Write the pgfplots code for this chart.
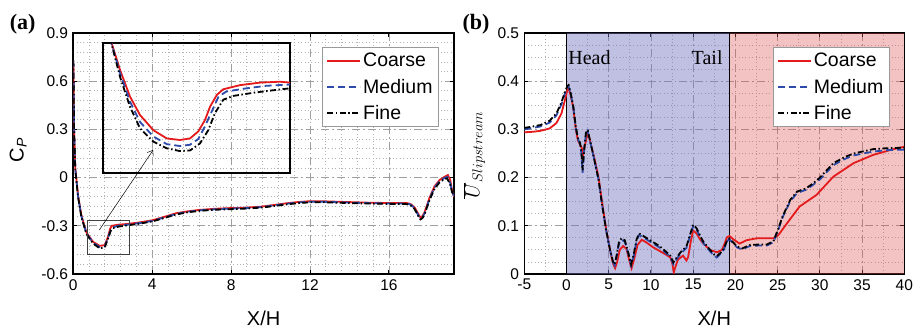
\documentclass[border=0pt]{standalone}
\usepackage{pgfplots}
\pgfplotsset{compat=1.18}
\usepackage{pgfplotstable}
\usepackage{fontspec}
\setmainfont{Liberation Sans}
\newfontfamily\seriffont{Liberation Serif}
\usetikzlibrary{arrows.meta}

\definecolor{coarsec}{RGB}{228,26,28}
\definecolor{mediumc}{RGB}{45,75,170}
\definecolor{headc}{RGB}{115,115,190}
\definecolor{tailc}{RGB}{222,80,80}

% ---------- panel (a): Cp ----------
\pgfplotstableread{
x y
0 0.73
0.02 0.55
0.04 0.30
0.10 0.06
0.24 -0.11
0.41 -0.235
0.66 -0.34
1.00 -0.40
1.34 -0.425
1.59 -0.42
1.76 -0.37
1.86 -0.32
1.95 -0.30
2.3 -0.293
2.7 -0.289
3.3 -0.28
4.0 -0.266
4.6 -0.245
5.2 -0.222
5.8 -0.21
6.4 -0.201
7.2 -0.194
7.9 -0.19
8.7 -0.187
9.5 -0.181
10.2 -0.17
10.8 -0.16
11.4 -0.152
12.0 -0.147
12.8 -0.148
13.6 -0.151
14.4 -0.154
15.2 -0.157
16.0 -0.158
16.9 -0.158
17.1 -0.165
17.3 -0.185
17.47 -0.222
17.59 -0.248
17.7 -0.24
17.81 -0.215
18.06 -0.125
18.31 -0.055
18.57 -0.015
18.82 0.005
18.99 0.016
19.11 -0.015
19.2 -0.08
19.3 -0.12
}\cpcoarse

\pgfplotstableread{
x y
0 0.73
0.02 0.55
0.04 0.295
0.10 0.055
0.24 -0.115
0.41 -0.24
0.66 -0.345
1.00 -0.405
1.34 -0.433
1.59 -0.428
1.76 -0.375
1.90 -0.325
2.0 -0.31
2.3 -0.299
2.7 -0.294
3.3 -0.284
4.0 -0.27
4.6 -0.249
5.2 -0.226
5.8 -0.213
6.4 -0.204
7.2 -0.197
7.9 -0.193
8.7 -0.19
9.5 -0.184
10.2 -0.173
10.8 -0.163
11.4 -0.155
12.0 -0.15
12.8 -0.151
13.6 -0.154
14.4 -0.157
15.2 -0.16
16.0 -0.161
16.9 -0.161
17.1 -0.168
17.3 -0.19
17.47 -0.23
17.6 -0.255
17.7 -0.247
17.81 -0.222
18.06 -0.133
18.31 -0.062
18.57 -0.022
18.82 -0.002
18.97 0.004
19.1 -0.03
19.2 -0.085
19.3 -0.115
}\cpmedium

\pgfplotstableread{
x y
0 0.73
0.02 0.55
0.04 0.29
0.10 0.05
0.24 -0.12
0.41 -0.245
0.66 -0.35
1.00 -0.41
1.34 -0.44
1.59 -0.435
1.76 -0.38
1.90 -0.33
2.0 -0.315
2.3 -0.305
2.7 -0.298
3.3 -0.288
4.0 -0.273
4.6 -0.252
5.2 -0.23
5.8 -0.216
6.4 -0.207
7.2 -0.2
7.9 -0.197
8.7 -0.193
9.5 -0.187
10.2 -0.177
10.8 -0.167
11.4 -0.159
12.0 -0.154
12.8 -0.154
13.6 -0.157
14.4 -0.16
15.2 -0.162
16.0 -0.164
16.9 -0.165
17.1 -0.172
17.3 -0.195
17.47 -0.235
17.6 -0.26
17.7 -0.252
17.81 -0.228
18.06 -0.14
18.31 -0.07
18.57 -0.03
18.82 -0.008
18.95 -0.005
19.1 -0.04
19.2 -0.09
19.3 -0.11
}\cpfine

% ---------- inset (zoomed view) ----------
\pgfplotstableread{
x y
0.78 -0.262
0.803 -0.270
0.899 -0.312
1.013 -0.354
1.128 -0.383
1.281 -0.407
1.435 -0.420
1.587 -0.4225
1.702 -0.420
1.797 -0.409
1.874 -0.391
1.932 -0.370
2.009 -0.3515
2.084 -0.3425
2.276 -0.336
2.506 -0.332
2.735 -0.3306
2.85 -0.332
}\inscoarse

\pgfplotstableread{
x y
0.78 -0.262
0.803 -0.271
0.899 -0.317
1.013 -0.362
1.128 -0.394
1.281 -0.417
1.435 -0.429
1.587 -0.432
1.702 -0.430
1.797 -0.421
1.874 -0.401
1.95 -0.378
2.03 -0.354
2.12 -0.346
2.35 -0.341
2.58 -0.337
2.85 -0.335
}\insmedium

\pgfplotstableread{
x y
0.78 -0.262
0.803 -0.272
0.899 -0.323
1.013 -0.370
1.128 -0.404
1.281 -0.425
1.435 -0.4356
1.587 -0.440
1.702 -0.439
1.816 -0.428
1.912 -0.407
1.989 -0.380
2.084 -0.359
2.199 -0.353
2.43 -0.348
2.66 -0.344
2.85 -0.341
}\insfine

% ---------- panel (b): slipstream velocity ----------
\pgfplotstableread{
x y
-5 0.294
-4 0.295
-3.1 0.297
-2 0.302
-1.2 0.313
-0.6 0.333
-0.2 0.360
0.1 0.382
0.25 0.385
0.5 0.37
0.8 0.345
1.1 0.30
1.35 0.277
1.6 0.268
1.8 0.262
1.95 0.245
2.15 0.265
2.5 0.292
2.7 0.283
2.9 0.268
3.3 0.24
3.8 0.20
4.2 0.15
4.7 0.092
5.15 0.05
5.5 0.022
5.75 0.012
6.0 0.025
6.3 0.05
6.7 0.058
7.1 0.052
7.4 0.03
7.7 0.012
8.0 0.03
8.4 0.06
8.9 0.071
9.5 0.065
10.2 0.056
11.0 0.048
11.8 0.04
12.3 0.034
12.55 0.02
12.7 0.003
12.9 0.015
13.2 0.03
13.8 0.038
14.2 0.028
14.4 0.035
14.7 0.066
15.0 0.09
15.4 0.084
15.8 0.072
16.2 0.063
17.0 0.05
17.8 0.045
18.4 0.05
18.7 0.062
19.0 0.076
19.3 0.079
19.75 0.072
20.5 0.063
21.3 0.070
22.5 0.074
23.5 0.074
24.5 0.074
25.1 0.081
26.1 0.105
27.6 0.14
29.6 0.164
31.6 0.202
34.0 0.23
36.3 0.247
38.7 0.259
40 0.264
}\ucoarse

\pgfplotstableread{
x y
-5 0.300
-4 0.303
-3.1 0.306
-2 0.314
-1.2 0.329
-0.6 0.352
-0.2 0.374
0.1 0.387
0.25 0.389
0.5 0.373
0.8 0.346
1.1 0.303
1.35 0.280
1.6 0.270
1.75 0.252
1.9 0.210
2.1 0.258
2.3 0.291
2.5 0.297
2.7 0.282
2.9 0.267
3.3 0.236
3.8 0.195
4.2 0.145
4.7 0.09
5.15 0.05
5.5 0.025
5.7 0.018
5.95 0.037
6.2 0.062
6.5 0.071
6.9 0.067
7.3 0.043
7.65 0.018
7.95 0.037
8.3 0.069
8.6 0.081
9.0 0.077
9.9 0.067
11.0 0.055
11.8 0.043
12.3 0.035
12.65 0.02
13.0 0.03
13.5 0.042
14.2 0.054
14.6 0.077
15.0 0.099
15.4 0.092
15.8 0.077
16.2 0.064
17.0 0.047
17.5 0.037
17.8 0.034
18.3 0.043
18.6 0.05
19.05 0.069
19.3 0.072
19.6 0.066
20.2 0.055
20.8 0.051
21.7 0.058
22.7 0.059
23.7 0.059
24.5 0.066
25.1 0.093
25.6 0.118
26.5 0.151
27.3 0.168
28.4 0.175
29.2 0.185
30.0 0.196
31.6 0.226
33 0.239
34 0.246
36.3 0.254
38 0.257
40 0.258
}\umedium

\pgfplotstableread{
x y
-5 0.303
-4 0.306
-3.1 0.309
-2 0.318
-1.2 0.333
-0.6 0.356
-0.2 0.377
0.1 0.39
0.25 0.392
0.5 0.375
0.8 0.347
1.1 0.305
1.35 0.282
1.6 0.272
1.75 0.255
1.9 0.215
2.1 0.26
2.3 0.293
2.5 0.299
2.7 0.283
2.9 0.268
3.3 0.236
3.8 0.195
4.2 0.145
4.7 0.09
5.15 0.05
5.5 0.026
5.7 0.02
5.95 0.04
6.2 0.065
6.5 0.074
6.9 0.07
7.3 0.045
7.65 0.02
7.95 0.04
8.3 0.072
8.6 0.084
9.0 0.08
9.9 0.07
11.0 0.058
11.8 0.046
12.3 0.038
12.65 0.024
13.0 0.033
13.5 0.045
14.2 0.057
14.6 0.08
15.0 0.102
15.4 0.095
15.8 0.08
16.2 0.067
17.0 0.05
17.5 0.04
17.8 0.037
18.3 0.045
18.6 0.052
19.05 0.0705
19.3 0.073
19.6 0.068
20.2 0.057
20.8 0.053
21.7 0.06
22.7 0.061
23.7 0.061
24.5 0.068
25.1 0.095
25.6 0.12
26.5 0.154
27.3 0.171
28.4 0.178
29.2 0.188
30.0 0.2
31.6 0.23
33 0.243
34 0.25
36.3 0.259
38 0.261
40 0.262
}\ufine

\pgfplotsset{
  panel/.style={
    scale only axis,
    anchor=south west,
    width=380pt, height=241pt,
    axis line style={line width=1.6pt},
    major tick length=4pt,
    minor tick length=0pt,
    tick style={black, line width=1pt},
    grid=both,
    major grid style={gray!75, line width=0.8pt, dash pattern=on 8pt off 3pt on 1.5pt off 3pt},
    minor grid style={gray!60, line width=0.8pt, dash pattern=on 0.8pt off 2.6pt},
    tick label style={font=\fontsize{15.5}{18}\selectfont, inner sep=1pt},
    xticklabel style={yshift=-4pt},
    yticklabel style={xshift=-4pt},
    label style={font=\fontsize{20}{24}\selectfont},
    legend style={draw=gray!80, line width=1.2pt, fill=white,
      font=\fontsize{19.5}{22}\selectfont, row sep=6.5pt,
      inner xsep=4pt, inner ysep=4pt, cells={anchor=west}},
    legend image code/.code={\draw[#1] (0pt,0pt) -- (33pt,0pt);},
  },
  coarse/.style={coarsec, line width=1.8pt},
  medium/.style={mediumc, line width=1.8pt, dash pattern=on 7pt off 4pt},
  fine/.style={black, line width=1.8pt, dash pattern=on 6pt off 2.5pt on 1.5pt off 2.5pt},
}

\begin{document}
\begin{tikzpicture}
\useasboundingbox (0,0) rectangle (918pt,328pt);

% ---------------- (a) ----------------
\begin{axis}[panel,
  at={(73.3pt,54pt)}, width=380.7pt,
  xmin=0, xmax=19.3, ymin=-0.6, ymax=0.9,
  xtick={0,4,8,12,16}, xticklabels={0,4,8,12,16},
  ytick={-0.6,-0.3,0,0.3,0.6,0.9}, yticklabels={-0.6,-0.3,0,0.3,0.6,0.9},
  minor x tick num=4, minor y tick num=4,
  xlabel={X/H}, ylabel={C\textsubscript{\textit{P}}},
  xlabel style={at={(axis description cs:0.5,-0.1826)}, anchor=center},
  ylabel style={at={(axis description cs:-0.145,0.515)}, anchor=center},
  legend style={at={(0.961,0.943)}, anchor=north east},
]
\addplot[coarse] table {\cpcoarse};
\addlegendentry{Coarse}
\addplot[medium] table {\cpmedium};
\addlegendentry{Medium}
\addplot[fine] table {\cpfine};
\addlegendentry{Fine}
\draw[black!75, line width=0.8pt] (axis cs:0.69,-0.475) rectangle (axis cs:2.85,-0.268);
\draw[black, line width=0.5pt, -{Straight Barb[length=5pt,width=7pt]}] (axis cs:1.32,-0.326) -- (axis cs:4.05,0.172);
\end{axis}

% inset
\begin{axis}[
  scale only axis, anchor=south west,
  at={(102.7pt,154.7pt)}, width=187.3pt, height=130pt,
  xmin=0.7, xmax=2.85, ymin=-0.475, ymax=-0.27,
  axis line style={line width=1.6pt},
  ticks=none,
]
\addplot[coarse] table {\inscoarse};
\addplot[medium] table {\insmedium};
\addplot[fine] table {\insfine};
\end{axis}

% ---------------- (b) ----------------
\begin{axis}[panel,
  at={(524.3pt,54pt)},
  xmin=-5, xmax=40, ymin=0, ymax=0.5,
  xtick={-5,0,5,10,15,20,25,30,35,40}, xticklabels={-5,0,5,10,15,20,25,30,35,40},
  ytick={0,0.1,0.2,0.3,0.4,0.5}, yticklabels={0,0.1,0.2,0.3,0.4,0.5},
  minor x tick num=1, minor y tick num=3,
  xlabel={X/H}, ylabel={$\overline{U}_{Slipstream}$},
  xlabel style={at={(axis description cs:0.5,-0.1826)}, anchor=center},
  ylabel style={at={(axis description cs:-0.132,0.494)}, anchor=center},
  legend style={at={(0.962,0.943)}, anchor=north east},
]
\addplot[forget plot, draw=none, fill=headc, fill opacity=0.45] coordinates {(0,0) (0,0.5) (19.3,0.5) (19.3,0)} -- cycle;
\addplot[forget plot, draw=none, fill=tailc, fill opacity=0.35] coordinates {(19.3,0) (19.3,0.5) (40,0.5) (40,0)} -- cycle;
\addplot[forget plot, black, line width=0.8pt] coordinates {(0,0) (0,0.5)};
\addplot[forget plot, black, line width=0.8pt] coordinates {(19.3,0) (19.3,0.5)};
\addplot[coarse] table {\ucoarse};
\addlegendentry{Coarse}
\addplot[medium] table {\umedium};
\addlegendentry{Medium}
\addplot[fine] table {\ufine};
\addlegendentry{Fine}
\node[anchor=base west, font=\seriffont\fontsize{20}{24}\selectfont, inner sep=0pt] at (axis cs:0.2,0.434) {Head};
\node[anchor=base east, font=\seriffont\fontsize{20}{24}\selectfont, inner sep=0pt] at (axis cs:18.5,0.434) {Tail};
\end{axis}

\node[font=\seriffont\bfseries\fontsize{22}{26}\selectfont] at (22.7pt,304pt) {(a)};
\node[font=\seriffont\bfseries\fontsize{22}{26}\selectfont] at (476pt,304pt) {(b)};
\end{tikzpicture}
\end{document}
